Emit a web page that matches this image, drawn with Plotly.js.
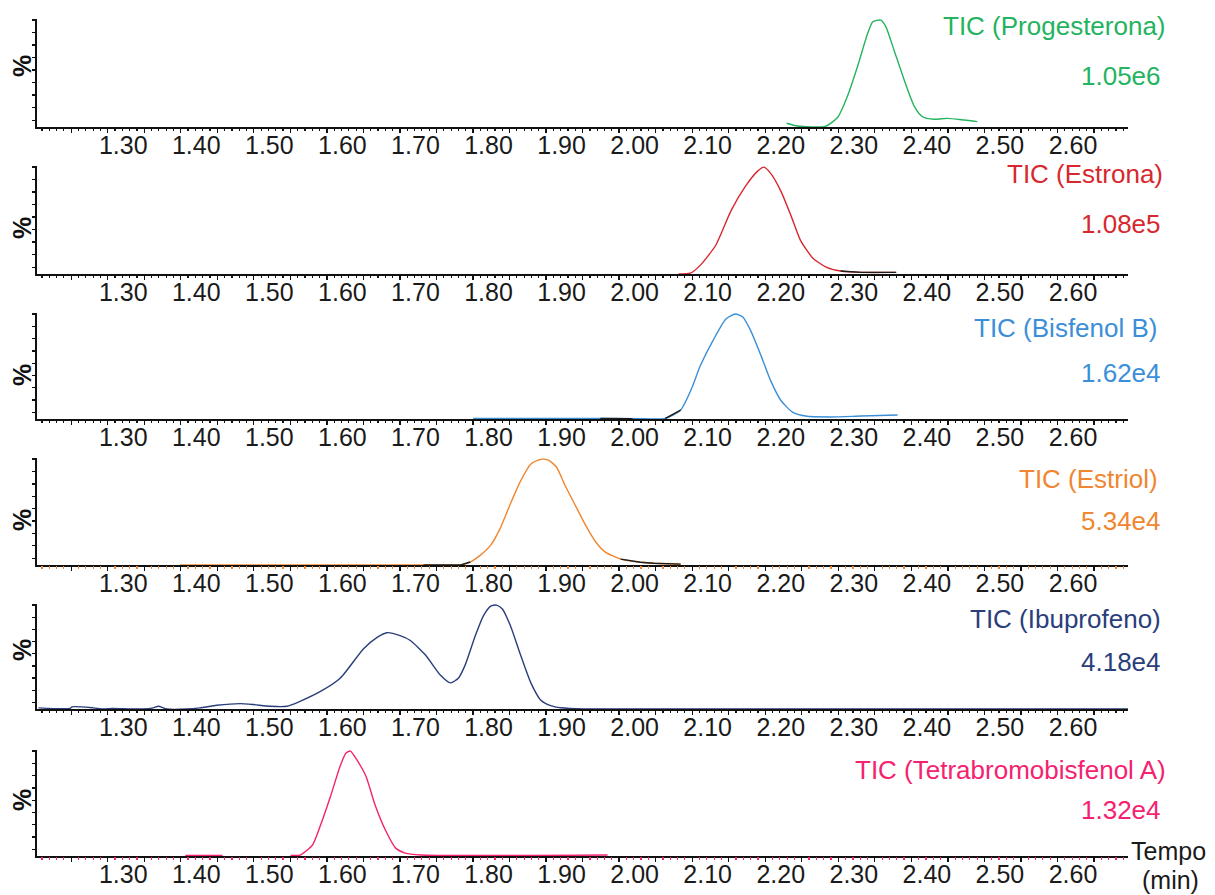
<!DOCTYPE html>
<html>
<head>
<meta charset="utf-8">
<script src="https://cdn.plot.ly/plotly-3.0.1.min.js"></script>
<style>
  html, body { margin: 0; padding: 0; background: #ffffff; }
  #chart { width: 1215px; height: 895px; }
</style>
</head>
<body>
<div id="chart"></div>
<script>
// Stacked TIC chromatograms, one panel per compound (relative intensity in %)
const compounds = ['Progesterona', 'Estrona', 'Bisfenol B', 'Estriol', 'Ibuprofeno', 'Tetrabromobisfenol A'];
const intensities = ['1.05e6', '1.08e5', '1.62e4', '5.34e4', '4.18e4', '1.32e4'];
const colors = ['#24b35e', '#d7282e', '#3a8fd8', '#f08630', '#293e7b', '#f4226f'];
const tickLabels = ['1.30', '1.40', '1.50', '1.60', '1.70', '1.80', '1.90', '2.00', '2.10', '2.20', '2.30', '2.40', '2.50', '2.60'];

// retention time (min) / relative intensity (%)
const progTime = [2.208, 2.223, 2.261, 2.278, 2.291, 2.305, 2.319, 2.326, 2.337, 2.344, 2.355, 2.369, 2.383, 2.394, 2.410, 2.428, 2.451, 2.469];
const progPct  = [3.5, 0.9, 0.6, 9.1, 28.3, 56.4, 87.6, 98.4, 100, 93.7, 72.0, 43.9, 19.0, 9.6, 7.2, 8.1, 6.5, 5.0];

const estronaTime = [2.060, 2.077, 2.090, 2.111, 2.132, 2.152, 2.168, 2.177, 2.186, 2.200, 2.214, 2.227, 2.244, 2.262, 2.282, 2.310, 2.358];
const estronaPct  = [0.0, 1.0, 8.3, 26.9, 59.3, 82.4, 96.0, 100, 94.4, 77.8, 54.6, 31.5, 14.8, 6.5, 2.8, 1.5, 1.5];

const bisbTime = [1.779, 1.953, 1.997, 2.008, 2.042, 2.063, 2.077, 2.090, 2.107, 2.125, 2.138, 2.148, 2.159, 2.173, 2.186, 2.200, 2.216, 2.234, 2.268, 2.310, 2.360];
const bisbPct  = [0.5, 0.5, 0.4, 0.3, 0.5, 8.5, 27.4, 50.9, 74.5, 95.3, 100, 97.2, 84.0, 60.4, 36.8, 17.9, 6.6, 2.8, 1.9, 2.8, 3.8];

const estriolTime = [1.378, 1.711, 1.762, 1.775, 1.789, 1.803, 1.816, 1.830, 1.844, 1.858, 1.868, 1.875, 1.882, 1.893, 1.905, 1.919, 1.933, 1.947, 1.960, 1.981, 2.008, 2.026, 2.063];
const estriolPct  = [0.0, 0.0, 0.0, 2.8, 9.3, 18.7, 34.6, 57.9, 79.4, 95.3, 99.0, 100, 99.0, 92.5, 74.8, 56.1, 37.4, 21.5, 12.1, 5.5, 2.6, 1.6, 0.8];

const ibuTime = [1.184, 1.227, 1.230, 1.259, 1.273, 1.286, 1.310, 1.327, 1.341, 1.348, 1.360, 1.387, 1.405, 1.428, 1.460, 1.478, 1.501, 1.524, 1.542, 1.570, 1.597, 1.629, 1.648, 1.661, 1.679, 1.693, 1.714, 1.734, 1.748, 1.759, 1.768, 1.782, 1.793, 1.803, 1.811, 1.819, 1.830, 1.844, 1.858, 1.871, 1.885, 1.899, 1.930, 2.677];
const ibuPct  = [1.1, 0.5, 2.1, 1.1, 0.0, 0.5, 0.0, 0.0, 1.1, 2.6, 0.0, 0.0, 1.1, 3.6, 5.2, 4.3, 2.6, 2.6, 7.4, 16.9, 29.6, 58.0, 69.2, 73.4, 70.6, 65.9, 51.7, 32.7, 25.1, 29.9, 42.2, 70.6, 89.6, 99.0, 100, 96.2, 80.0, 51.7, 25.1, 9.0, 3.3, 1.2, 0.0, 0.0];

const tbbpaTime = [1.385, 1.436, null, 1.529, 1.542, 1.559, 1.570, 1.584, 1.597, 1.605, 1.611, 1.619, 1.632, 1.645, 1.659, 1.673, 1.686, 1.707, 1.963];
const tbbpaPct  = [0.5, 0.5, null, 0.5, 0.9, 10.4, 29.2, 57.5, 85.8, 98.1, 100, 92.5, 76.4, 48.1, 24.5, 7.5, 2.8, 1.0, 1.0];

const series = [
  [progTime, progPct],
  [estronaTime, estronaPct],
  [bisbTime, bisbPct],
  [estriolTime, estriolPct],
  [ibuTime, ibuPct],
  [tbbpaTime, tbbpaPct]
];

// stretches of each trace that are drawn in dark (panel index, first point, last point)
const darkStretches = [[1, 14, 16], [2, 1, 2], [2, 4, 5], [3, 1, 3], [3, 19, 22]];

// page geometry in pixels
const W = 1215, H = 895;
const plotLeft = 37, plotRight = 1128;
const panelBottom = [127, 274, 419, 565, 709, 856];
const panelTop = [18.5, 165.5, 312.5, 457.5, 603.5, 749.5];
const labelRight = [1168, 1165, 1160, 1160, 1163, 1168];
const labelY = [26, 174, 328, 479, 619, 770];
const valueY = [76, 224, 373, 521, 662, 810];
const pctY = [66, 228, 375, 520, 650, 800];

const xRange = [1.182, 2.6753];
const majorTick0 = 1.2788;
const fontFamily = 'Liberation Sans, Arial, sans-serif';

const px = v => v / W;
const py = v => 1 - v / H;

const traces = [];
const layout = {
  width: W, height: H,
  margin: {l: 0, r: 0, t: 0, b: 0},
  paper_bgcolor: '#ffffff',
  plot_bgcolor: 'rgba(0,0,0,0)',
  showlegend: false,
  font: {family: fontFamily, size: 25, color: '#1a1a1a'},
  annotations: []
};

for (let i = 0; i < 6; i++) {
  const n = i + 1;
  const xa = 'x' + n, ya = 'y' + n;
  const xo = 'x' + (n + 6);
  const sfx = n === 1 ? '' : n;

  traces.push({
    type: 'scatter', mode: 'lines',
    x: series[i][0], y: series[i][1],
    xaxis: xa, yaxis: ya,
    line: {color: colors[i], width: 1.4, shape: 'spline', smoothing: 0.6},
    connectgaps: false,
    hoverinfo: 'skip'
  });
  // empty trace that carries the tick-mark axis
  traces.push({type: 'scatter', mode: 'lines', x: [], y: [], xaxis: xo, yaxis: ya, hoverinfo: 'skip'});

  // axis with the time labels (no marks)
  layout['xaxis' + sfx] = {
    domain: [px(plotLeft), px(plotRight)],
    anchor: ya,
    range: xRange,
    tickmode: 'array',
    tickvals: tickLabels.map(Number),
    ticktext: tickLabels,
    ticks: '',
    ticklabelstandoff: -5,
    tickfont: {family: fontFamily, size: 25, color: '#1a1a1a'},
    showline: true, linecolor: '#111111', linewidth: 1.6,
    showgrid: false, zeroline: false, fixedrange: true
  };
  // overlaid axis carrying the tick marks
  layout['xaxis' + (n + 6)] = {
    overlaying: xa,
    anchor: ya,
    range: xRange,
    tickmode: 'linear', tick0: majorTick0, dtick: 0.05,
    ticks: 'outside', ticklen: 5, tickwidth: 1.3, tickcolor: '#111111',
    minor: {
      ticks: 'outside', tick0: majorTick0, dtick: 0.01, ticklen: 3, tickwidth: 1.2,
      tickcolor: (i === 3 || i === 5) ? colors[i] : '#111111', showgrid: false
    },
    showticklabels: false,
    showline: false, showgrid: false, zeroline: false, fixedrange: true
  };
  layout['yaxis' + sfx] = {
    domain: [py(panelBottom[i]), py(panelTop[i])],
    anchor: xa,
    range: [0, 101.5],
    tickmode: 'linear', tick0: 100, dtick: 11.7,
    ticks: 'outside', ticklen: 3, tickwidth: 1.3, tickcolor: '#111111',
    showticklabels: false,
    showline: true, linecolor: '#111111', linewidth: 1.6,
    showgrid: false, zeroline: false, fixedrange: true
  };

  layout.annotations.push({
    xref: 'paper', yref: 'paper', x: px(labelRight[i]), y: py(labelY[i]),
    xanchor: 'right', yanchor: 'middle', showarrow: false,
    text: 'TIC (' + compounds[i] + ')',
    font: {family: fontFamily, size: 26, color: colors[i]}
  });
  layout.annotations.push({
    xref: 'paper', yref: 'paper', x: px(1163), y: py(valueY[i]),
    xanchor: 'right', yanchor: 'middle', showarrow: false,
    text: intensities[i],
    font: {family: fontFamily, size: 26, color: colors[i]}
  });
  layout.annotations.push({
    xref: 'paper', yref: 'paper', x: px(22), y: py(pctY[i]),
    xanchor: 'center', yanchor: 'middle', showarrow: false,
    text: '%', textangle: -90,
    font: {family: fontFamily, size: 25, color: '#111111', weight: 'bold'}
  });
}

// dark baseline stretches, taken from the same series
darkStretches.forEach(([p, a, b]) => {
  const n = p + 1;
  traces.push({
    type: 'scatter', mode: 'lines',
    x: series[p][0].slice(a, b + 1), y: series[p][1].slice(a, b + 1),
    xaxis: 'x' + n, yaxis: 'y' + n,
    line: {color: '#1c1c1c', width: 1.4},
    hoverinfo: 'skip'
  });
});

layout.annotations.push({
  xref: 'paper', yref: 'paper', x: px(1129), y: py(851),
  xanchor: 'left', yanchor: 'middle', showarrow: false,
  text: 'Tempo', font: {family: fontFamily, size: 25, color: '#1a1a1a'}
});
layout.annotations.push({
  xref: 'paper', yref: 'paper', x: px(1170), y: py(880),
  xanchor: 'center', yanchor: 'middle', showarrow: false,
  text: '(min)', font: {family: fontFamily, size: 25, color: '#1a1a1a'}
});

Plotly.newPlot('chart', traces, layout, {displayModeBar: false, staticPlot: true});
</script>
</body>
</html>
